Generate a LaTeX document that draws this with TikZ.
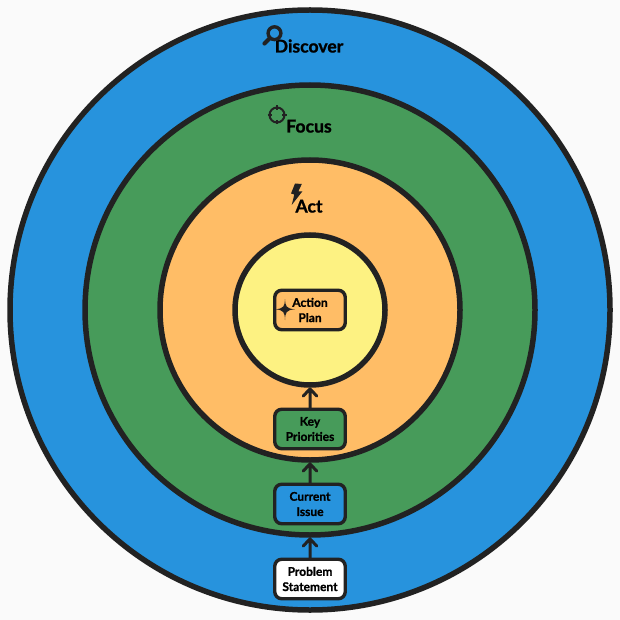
\documentclass[tikz,border=0pt]{standalone}
\usepackage{fontspec}
\setmainfont{Lato}[BoldFeatures={FakeBold=1.1}]
\definecolor{ink}{HTML}{222222}
\definecolor{paper}{HTML}{FAFAFA}
\definecolor{cblue}{HTML}{2793DD}
\definecolor{cgreen}{HTML}{479B5A}
\definecolor{corange}{HTML}{FFBD66}
\definecolor{cyellow}{HTML}{FDF282}
\tikzset{
  x=1pt,y=-1pt,
  ring/.style={circle,draw=ink,line width=5.5pt,inner sep=0pt,outer sep=0pt,minimum size=#1},
  stagebox/.style={rectangle,rounded corners=7pt,draw=ink,line width=3.4pt,minimum width=70.5pt,minimum height=39.5pt,inner sep=0pt,outer sep=0pt,align=center,font=\fontsize{12}{15.2}\selectfont\bfseries,text=black},
  title/.style={inner sep=0pt,anchor=base,font=\fontsize{17.6}{20}\selectfont\bfseries,text=black},
  flow/.style={draw=ink,line width=3pt,line cap=round,line join=round}
}
\begin{document}
\begin{tikzpicture}
\useasboundingbox (0,0) rectangle (620,620);
\fill[paper] (0,0) rectangle (620,620);
\node[ring=600pt,fill=cblue] (discover) at (310,310) {};
\node[ring=450pt,fill=cgreen] (focus) at (310,310) {};
\node[ring=300pt,fill=corange] (act) at (310,310) {};
\node[ring=150pt,fill=cyellow] (core) at (310,310) {};
\node[stagebox,fill=corange] (plan) at (310,310) {Action\\Plan};
\node[stagebox,fill=cgreen] (key) at (310,429) {Key\\Priorities};
\node[stagebox,fill=cblue] (issue) at (310,504) {Current\\Issue};
\node[stagebox,fill=white] (problem) at (310,579) {Problem\\Statement};
\draw[flow] (key.north) -- ([yshift=-4pt]core.south) ++(-6.8,7) -- ++(6.8,-7) -- ++(6.8,7);
\draw[flow] (issue.north) -- ([yshift=-4pt]act.south) ++(-6.8,7) -- ++(6.8,-7) -- ++(6.8,7);
\draw[flow] (problem.north) -- ([yshift=-4pt]focus.south) ++(-6.8,7) -- ++(6.8,-7) -- ++(6.8,7);
\node[title] (tdiscover) at (309,52.5) {Discover};
\node[title] (tfocus) at (309,132.5) {Focus};
\node[title] (tact) at (309,212.5) {Act};
% magnifier
\draw[ink,line width=3.4pt] (274.5,33.2) circle (6.4);
\draw[ink,line width=4.2pt,line cap=round] (269.5,38.5) -- (264.5,43.5);
% crosshair
\draw[ink,line width=2pt] (277,115) circle (7.5);
\draw[ink,line width=2pt] (277,105.5) -- (277,110) (277,120) -- (277,124.5) (267.5,115) -- (272,115) (282,115) -- (286.5,115);
% bolt
\fill[ink] (295,183.5) -- (301.8,184) -- (298.3,191.5) -- (302.3,191.5) -- (291.7,205) -- (294.3,194.5) -- (291,193.5) -- cycle;
% sparkle
\fill[ink] (285,299) .. controls (285.3,306) and (286,308.7) .. (295,309.3) .. controls (286,309.9) and (285.3,312.6) .. (285,320) .. controls (284.7,312.6) and (284,309.9) .. (275,309.3) .. controls (284,308.7) and (284.7,306) .. (285,299) -- cycle;
\end{tikzpicture}
\end{document}
